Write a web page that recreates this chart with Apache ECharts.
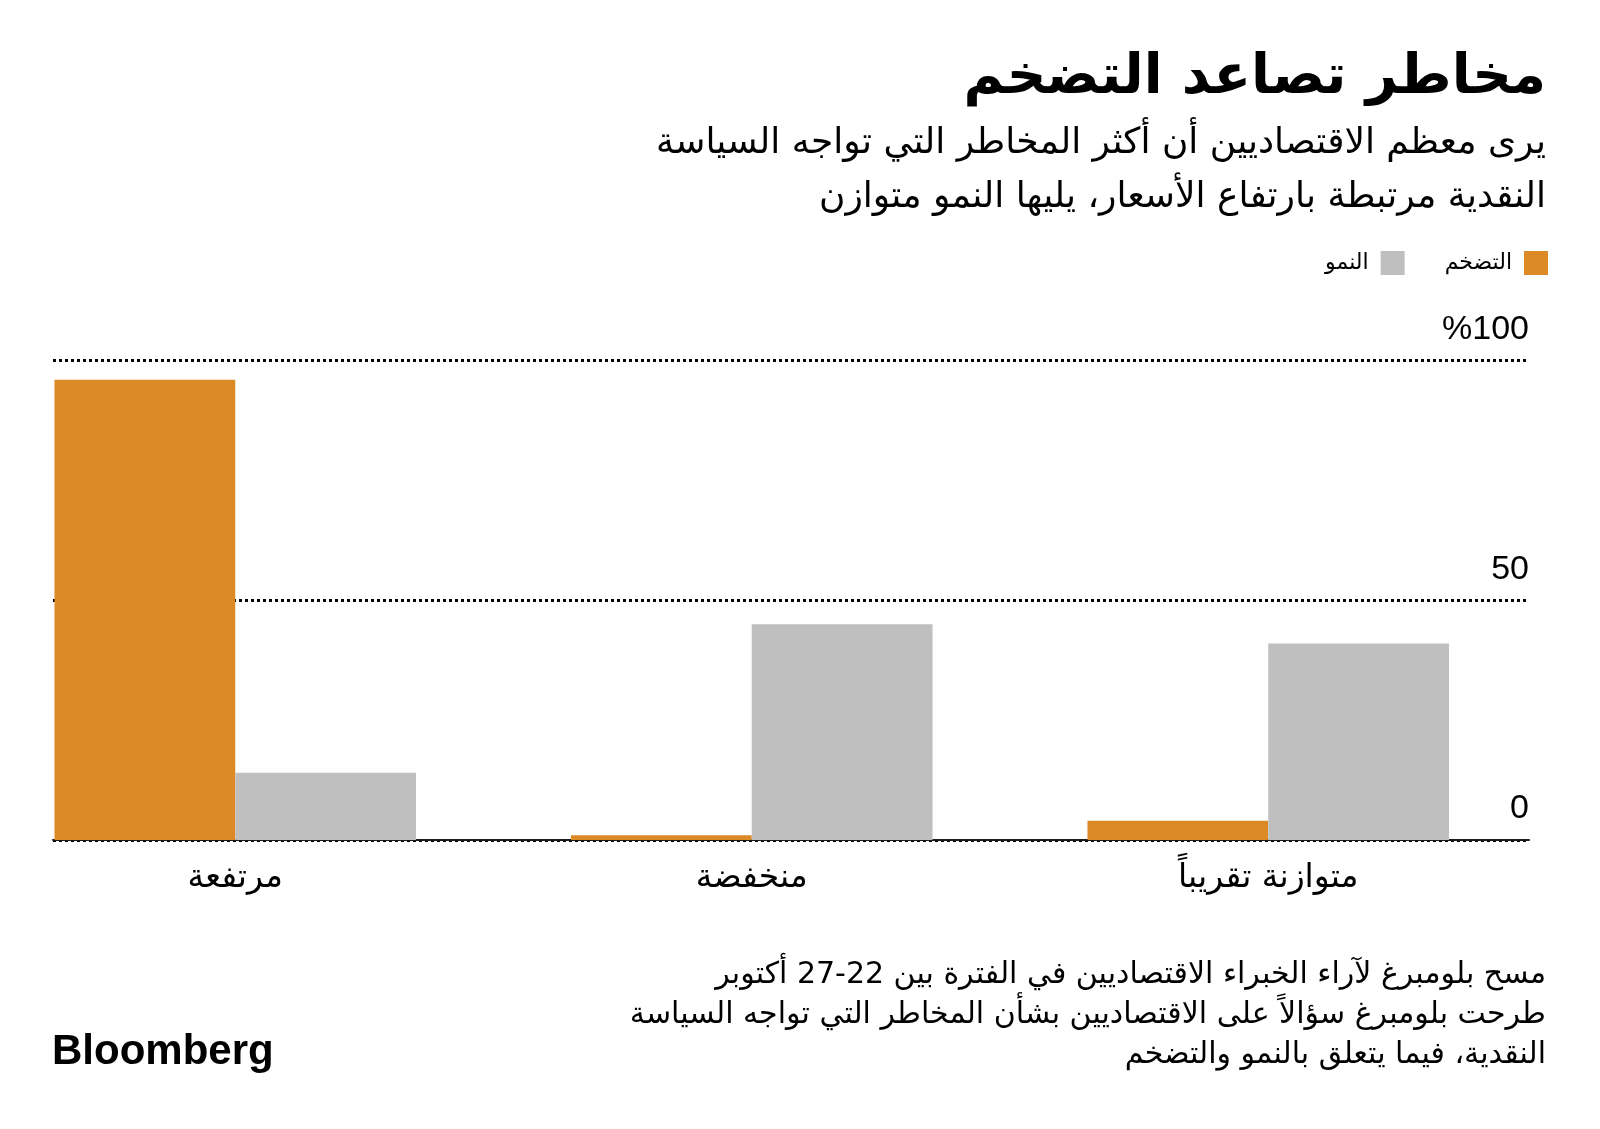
<!DOCTYPE html>
<html>
<head>
<meta charset="utf-8">
<script src="https://cdn.jsdelivr.net/npm/echarts@6/dist/echarts.min.js"></script>
<style>
html,body{margin:0;padding:0;background:#fff;}
#chart{width:1600px;height:1129px;}
</style>
</head>
<body>
<div id="chart" dir="rtl"></div>
<script>
const categories = ['مرتفعة', 'منخفضة', 'متوازنة تقريباً'];
const seriesNames = ['التضخم', 'النمو'];
const inflation = [96, 1, 4];
const growth = [14, 45, 41];
const yMin = 0, yMax = 100, yInterval = 50;

const titleText = 'مخاطر تصاعد التضخم';
const subtitleLines = ['يرى معظم الاقتصاديين أن أكثر المخاطر التي تواجه السياسة', 'النقدية مرتبطة بارتفاع الأسعار، يليها النمو متوازن'];
const footerLines = ['مسح بلومبرغ لآراء الخبراء الاقتصاديين في الفترة بين 22-27 أكتوبر', 'طرحت بلومبرغ سؤالاً على الاقتصاديين بشأن المخاطر التي تواجه السياسة', 'النقدية، فيما يتعلق بالنمو والتضخم'];
const brand = 'Bloomberg';

const AR = "'DejaVu Sans', sans-serif";
const NUM = "'Liberation Sans', Arial, sans-serif";
const colors = ['#DB8A26', '#BFBFBF'];

const chart = echarts.init(document.getElementById('chart'), null, {renderer: 'canvas'});
const gridTop = 360.5, gridBottom = 1129 - 840;

function lineTitle(text, top, size, weight, lh) {
  return {text: text, right: 54, top: top, padding: 0,
    textStyle: {fontFamily: AR, fontSize: size, fontWeight: weight, color: '#000', lineHeight: lh}};
}

const titles = [lineTitle(titleText, 46, 55, 'bold', 66)];
subtitleLines.forEach((t, i) => titles.push(lineTitle(t, 117 + i * 54, 36, 'normal', 54)));
footerLines.forEach((t, i) => titles.push(lineTitle(t, 955 + i * 40, 30, 'normal', 40)));
titles.push({text: brand, left: 52, top: 1031, padding: 0, textStyle: {fontFamily: NUM, fontSize: 42, fontWeight: 'bold', color: '#000'}});

chart.setOption({
  backgroundColor: '#ffffff',
  animation: false,
  color: colors,
  title: titles,
  legend: {
    data: [seriesNames[1], seriesNames[0]],
    right: 47, top: 246,
    align: 'right',
    icon: 'rect', itemWidth: 24, itemHeight: 24, itemGap: 40,
    textStyle: {fontFamily: AR, fontSize: 22, color: '#000', padding: [0, 7, 0, 0]}
  },
  grid: [
    {left: 53, right: 71, top: gridTop, bottom: gridBottom, outerBoundsMode: 'none', containLabel: false},
    {left: -23, right: 73.5, top: gridTop, bottom: gridBottom, outerBoundsMode: 'none', containLabel: false}
  ],
  xAxis: [
    {type: 'category', gridIndex: 0, data: categories,
     axisLine: {show: true, lineStyle: {color: '#1a1a1a', width: 2}},
     axisTick: {show: false}, axisLabel: {show: false}, splitLine: {show: false}},
    {type: 'category', gridIndex: 1, data: categories,
     axisLine: {show: false}, axisTick: {show: false}, splitLine: {show: false},
     axisLabel: {show: true, margin: 22, fontFamily: AR, fontSize: 33, color: '#000'}}
  ],
  yAxis: [
    {type: 'value', gridIndex: 0, min: yMin, max: yMax, interval: yInterval, position: 'right',
     axisLine: {show: false}, axisTick: {show: false},
     splitLine: {show: true, lineStyle: {color: '#000', width: 3, type: [3, 3]}},
     axisLabel: {inside: true, margin: 0, align: 'right', verticalAlign: 'bottom', padding: [0, 0, 14, 0],
       fontFamily: NUM, fontSize: 34, color: '#000',
       formatter: v => (v === yMax ? '%' + v : String(v))}},
    {type: 'value', gridIndex: 1, min: yMin, max: yMax, interval: yInterval, show: false,
     splitLine: {show: false}}
  ],
  series: [
    {name: seriesNames[0], type: 'bar', xAxisIndex: 1, yAxisIndex: 1, data: inflation,
     barGap: '0%', barCategoryGap: '30%', itemStyle: {color: colors[0]}, z: 2},
    {name: seriesNames[1], type: 'bar', xAxisIndex: 1, yAxisIndex: 1, data: growth,
     barGap: '0%', barCategoryGap: '30%', itemStyle: {color: colors[1]}, z: 2}
  ]
});
</script>
</body>
</html>
